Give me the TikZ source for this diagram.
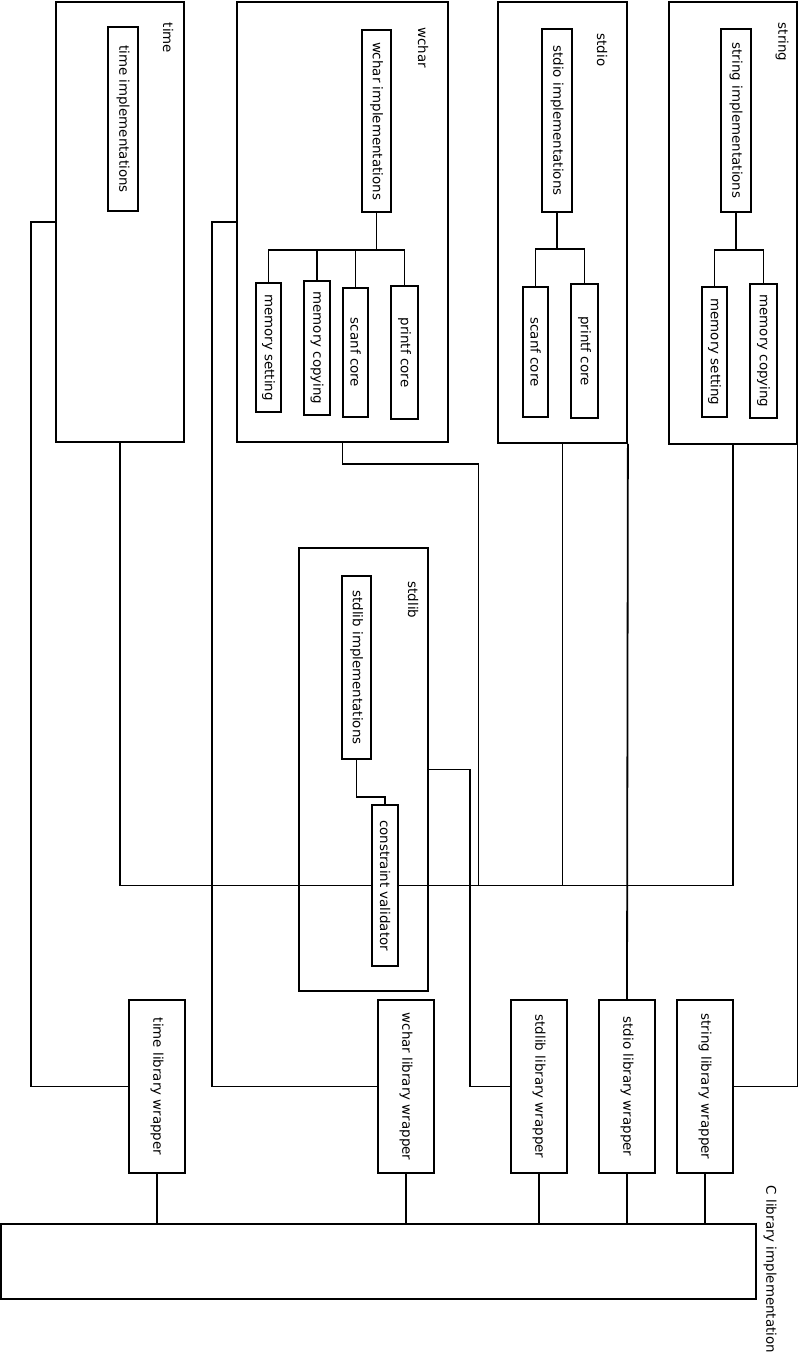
\documentclass[tikz,border=0pt]{standalone}
\usepackage{fontspec}
\usepackage{graphicx}
\setmainfont{DejaVu Sans}
\newcommand\fsz{\fontsize{13.4}{16}\selectfont}
\newcommand\rt[1]{\rotatebox{-90}{#1}}
\begin{document}
\begin{tikzpicture}[x=1pt,y=-1pt,
  bx/.style={draw, line width=1.8pt, inner sep=0pt, font=\fsz},
  lbl/.style={inner sep=0pt, font=\fsz},
  ln/.style={line width=1.8pt}]
\useasboundingbox (0,0) rectangle (798,1355);
% containers
\node[bx, minimum width=128pt, minimum height=440pt] (timebox) at (120,222) {};
\node[bx, minimum width=211pt, minimum height=440pt] (wcharbox) at (342.5,222) {};
\node[bx, minimum width=129pt, minimum height=441pt] (stdiobox) at (562.5,222.5) {};
\node[bx, minimum width=128pt, minimum height=442pt] (stringbox) at (733,223) {};
\node[bx, minimum width=129pt, minimum height=443pt] (stdlibbox) at (363.5,769.5) {};
\node[bx, minimum width=755pt, minimum height=75pt] (clib) at (378.5,1261.5) {};
% container labels
\node[lbl] (timel) at (168,38) {\rt{time}};
\node[lbl] (wcharl) at (423,47.5) {\rt{wchar}};
\node[lbl] (stdiol) at (602,50) {\rt{stdio}};
\node[lbl] (stringl) at (782,42) {\rt{string}};
\node[lbl] (stdlibl) at (413,600) {\rt{stdlib}};
\node[lbl] (clibl) at (770,1269.5) {\rt{C library implementation}};
% inner nodes
\node[bx, minimum width=30pt, minimum height=184pt] (timeimpl) at (123,119) {\rt{time implementations}};
\node[bx, minimum width=29pt, minimum height=182pt] (wcharimpl) at (376.5,121) {\rt{wchar implementations}};
\node[bx, minimum width=25pt, minimum height=129pt] (wmset) at (268.5,347.5) {\rt{memory setting}};
\node[bx, minimum width=26pt, minimum height=134pt] (wmcopy) at (317,348) {\rt{memory copying}};
\node[bx, minimum width=25pt, minimum height=129pt] (wscanf) at (355.5,352.5) {\rt{scanf core}};
\node[bx, minimum width=27pt, minimum height=133pt] (wprintf) at (404.5,352.5) {\rt{printf core}};
\node[bx, minimum width=30pt, minimum height=183pt] (stdioimpl) at (557,120.5) {\rt{stdio implementations}};
\node[bx, minimum width=25pt, minimum height=130pt] (sscanf) at (535.5,352) {\rt{scanf core}};
\node[bx, minimum width=27pt, minimum height=134pt] (sprintf) at (584.5,351) {\rt{printf core}};
\node[bx, minimum width=30pt, minimum height=183pt] (stringimpl) at (736,120.5) {\rt{string implementations}};
\node[bx, minimum width=25pt, minimum height=130pt] (tmset) at (714.5,352) {\rt{memory setting}};
\node[bx, minimum width=27pt, minimum height=134pt] (tmcopy) at (763.5,351) {\rt{memory copying}};
\node[bx, minimum width=29pt, minimum height=183pt] (stdlibimpl) at (356.5,667.5) {\rt{stdlib implementations}};
\node[bx, minimum width=26pt, minimum height=161pt] (valid) at (385,885.5) {\rt{constraint validator}};
% wrappers
\node[bx, minimum width=56pt, minimum height=173pt] (timew) at (157,1086.5) {\rt{time library wrapper}};
\node[bx, minimum width=56pt, minimum height=173pt] (wcharw) at (406,1086.5) {\rt{wchar library wrapper}};
\node[bx, minimum width=56pt, minimum height=173pt] (stdlibw) at (539,1086.5) {\rt{stdlib library wrapper}};
\node[bx, minimum width=56pt, minimum height=173pt] (stdiow) at (627,1086.5) {\rt{stdio library wrapper}};
\node[bx, minimum width=56pt, minimum height=173pt] (stringw) at (705,1086.5) {\rt{string library wrapper}};
% trees
\foreach \c in {wmset,wmcopy,wscanf,wprintf}
  \draw[ln] (wcharimpl.south) -- ++(0,37) -| (\c.north);
\foreach \c in {sscanf,sprintf}
  \draw[ln] (stdioimpl.south) -- ++(0,36) -| (\c.north);
\foreach \c in {tmset,tmcopy}
  \draw[ln] (stringimpl.south) -- ++(0,37) -| (\c.north);
\draw[ln] (stdlibimpl.south) -- ++(0,37) -| (valid.north);
% to validator
\draw[ln] (timebox.south) |- (valid.west);
\draw[ln] (wcharbox.south) -- ++(0,21) -- ++(136,0) |- (valid.east);
\draw[ln] (stdiobox.south) |- (valid.east);
\draw[ln] (stringbox.south) |- (valid.east);
% to wrappers
\draw[ln] (timebox.west) -- ++(-24,0) |- (timew.west);
\draw[ln] (wcharbox.west) -- ++(-24,0) |- (wcharw.west);
\draw[ln] (stdlibbox.east) -- ++(41,0) |- (stdlibw.west);
\draw[ln] (stdiobox.south east) -- (stdiow.north);
\draw[ln] (stringbox.south east) |- (stringw.east);
% wrappers to C lib
\foreach \w in {timew,wcharw,stdlibw,stdiow,stringw}
  \draw[ln] (\w.south) -- (\w.south |- clib.north);
\end{tikzpicture}
\end{document}
